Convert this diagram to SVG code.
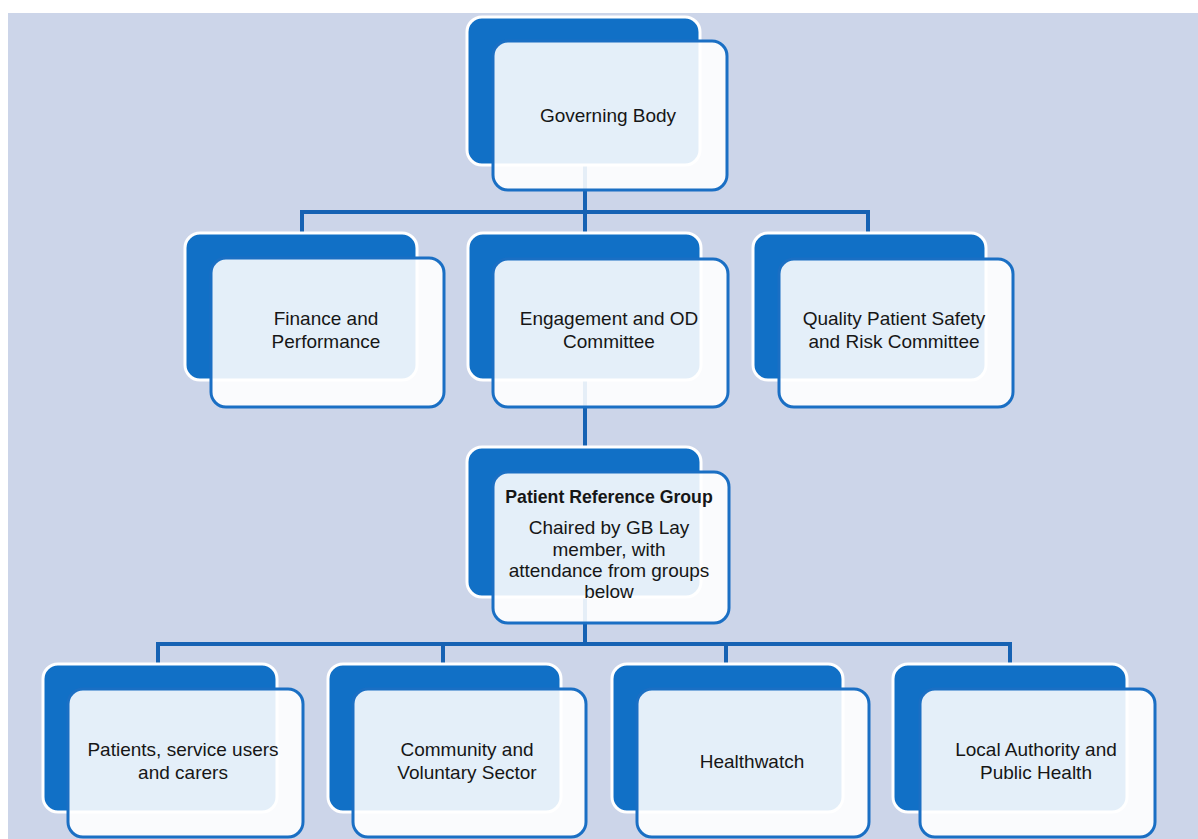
<svg xmlns="http://www.w3.org/2000/svg" width="1198" height="839" viewBox="0 0 1198 839">
<style>
.bg{fill:#ccd5e9}
.back{fill:#1170c6;stroke:#ffffff;stroke-width:3}
.front{fill:#ffffff;fill-opacity:0.89;stroke:#1a6fc4;stroke-width:3}
.conn{fill:none;stroke:#1662b3;stroke-width:4}
text{font-family:"Liberation Sans",Arial,sans-serif;font-size:19px;fill:#161616;text-anchor:middle}
.b{font-weight:bold;font-size:17.7px}
</style>
<rect x="0" y="0" width="1198" height="839" fill="#ffffff"/>
<rect class="bg" x="8" y="13" width="1190" height="826"/>
<g id="connectors">
<path class="conn" d="M585 150 V212 M302 234 V212 H868 V234 M585 212 V234"/>
<path class="conn" d="M585 370 V447"/>
<path class="conn" d="M585 590 V644 M158 665 V644 H1010 V665 M443 644 V665 M726 644 V665"/>
</g>
<g id="governing-body">
<rect class="back" x="467" y="17" width="233" height="148" rx="15"/>
<rect class="front" x="493" y="41" width="234" height="149" rx="15"/>
<text x="608" y="122">Governing Body</text>
</g>
<g id="finance">
<rect class="back" x="185" y="233" width="232" height="147" rx="15"/>
<rect class="front" x="211" y="258" width="233" height="149" rx="15"/>
<text x="326" y="325">Finance and</text>
<text x="326" y="348">Performance</text>
</g>
<g id="engagement">
<rect class="back" x="468" y="233" width="233" height="147" rx="15"/>
<rect class="front" x="493" y="259" width="235" height="148" rx="15"/>
<text x="609" y="325">Engagement and OD</text>
<text x="609" y="348">Committee</text>
</g>
<g id="quality">
<rect class="back" x="753" y="233" width="233" height="147" rx="15"/>
<rect class="front" x="779" y="259" width="234" height="148" rx="15"/>
<text x="894" y="325">Quality Patient Safety</text>
<text x="894" y="348">and Risk Committee</text>
</g>
<g id="patient-reference-group">
<rect class="back" x="467" y="447" width="234" height="150" rx="15"/>
<rect class="front" x="493" y="472" width="236" height="151" rx="15"/>
<text class="b" x="609" y="503">Patient Reference Group</text>
<text x="609" y="534">Chaired by GB Lay</text>
<text x="609" y="556">member, with</text>
<text x="609" y="577">attendance from groups</text>
<text x="609" y="598">below</text>
</g>
<g id="patients">
<rect class="back" x="43" y="664" width="234" height="148" rx="15"/>
<rect class="front" x="68" y="689" width="235" height="148" rx="15"/>
<text x="183" y="756">Patients, service users</text>
<text x="183" y="779">and carers</text>
</g>
<g id="community">
<rect class="back" x="328" y="664" width="233" height="148" rx="15"/>
<rect class="front" x="353" y="689" width="233" height="148" rx="15"/>
<text x="467" y="756">Community and</text>
<text x="467" y="779">Voluntary Sector</text>
</g>
<g id="healthwatch">
<rect class="back" x="612" y="664" width="231" height="148" rx="15"/>
<rect class="front" x="637" y="689" width="232" height="148" rx="15"/>
<text x="752" y="768">Healthwatch</text>
</g>
<g id="local-authority">
<rect class="back" x="893" y="664" width="234" height="148" rx="15"/>
<rect class="front" x="920" y="689" width="235" height="148" rx="15"/>
<text x="1036" y="756">Local Authority and</text>
<text x="1036" y="779">Public Health</text>
</g>
</svg>
